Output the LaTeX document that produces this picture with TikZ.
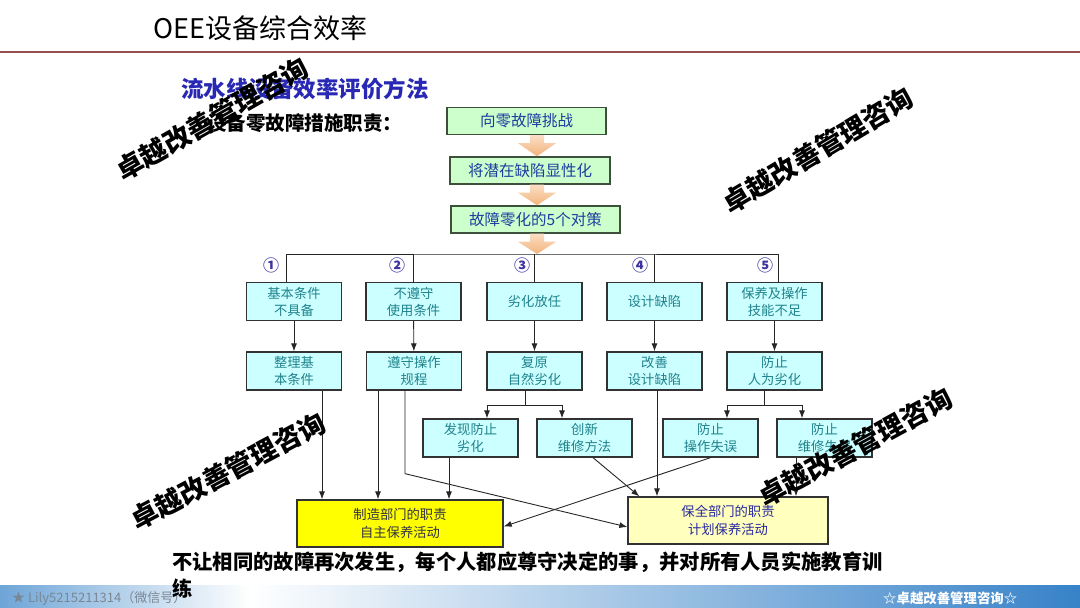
\documentclass[tikz,border=0pt]{standalone}
\usepackage{fontspec}
\setmainfont{Noto Sans CJK SC}
\usepackage{tikz}
\usetikzlibrary{arrows.meta,positioning,calc}
\usepackage{xcolor}

\definecolor{hdrline}{RGB}{150,80,80}
\definecolor{subblue}{RGB}{40,40,180}
\definecolor{topfill}{RGB}{204,255,204}
\definecolor{topedge}{RGB}{60,80,60}
\definecolor{topblue}{RGB}{30,60,160}
\definecolor{cyanfill}{RGB}{204,255,255}
\definecolor{boxedge}{RGB}{50,50,50}
\definecolor{tealtext}{RGB}{30,130,140}
\definecolor{yellowfill}{RGB}{255,255,0}
\definecolor{lightyellow}{RGB}{255,255,190}
\definecolor{mfgtext}{RGB}{50,50,70}
\definecolor{mnttext}{RGB}{40,40,160}
\definecolor{arrorange}{RGB}{243,180,125}
\definecolor{numblue}{RGB}{60,50,160}
\definecolor{footL}{RGB}{110,165,215}
\definecolor{footR}{RGB}{55,130,200}
\definecolor{footgray}{RGB}{120,135,150}

\begin{document}
\begin{tikzpicture}[x=1pt,y=-1pt,
    topbox/.style={
        rectangle, draw=topedge, line width=1.4pt, fill=topfill,
        minimum height=27pt, inner sep=0pt, text=topblue,
        font=\fontsize{15.5}{18}\selectfont
    },
    cbox/.style={
        rectangle, draw=boxedge, line width=1.3pt, fill=cyanfill,
        minimum width=95pt, minimum height=38pt, inner sep=0pt, align=center,
        text=tealtext, font=\fontsize{13.3}{17}\selectfont
    },
    dutybox/.style={
        rectangle, draw=boxedge, line width=1.3pt, minimum height=47pt,
        inner sep=0pt, align=center, font=\fontsize{13.3}{17.5}\selectfont
    },
    ln/.style={draw=black!85, line width=0.9pt},
    arr/.style={ln, -{Latex[length=8pt,width=6pt]}},
    blockarr/.style={top color=arrorange!45, bottom color=arrorange},
    num/.style={text=numblue, font=\fontsize{16}{16}\selectfont\bfseries},
    wmark/.style={font=\fontsize{27}{27}\selectfont\bfseries, text=black}
]
\fill[white] (0,0) rectangle (1080,608);
\useasboundingbox (0,0) rectangle (1080,608);

% 标题
\node[anchor=west, inner sep=0pt, font=\fontsize{27}{27}\selectfont] (title) at (153,28) {OEE设备综合效率};
\draw[hdrline, line width=1.8pt] (0,52) -- (1080,52);
\node[anchor=west, inner sep=0pt, text=subblue, font=\fontsize{22.5}{22.5}\selectfont\bfseries] (sub) at (181,89) {流水线设备效率评价方法};
\node[anchor=west, inner sep=0pt, font=\fontsize{19.5}{19.5}\selectfont\bfseries] (duty) at (207,123) {设备零故障措施职责：};

% 上部流程
\node[topbox, minimum width=159pt] (t1) at (526.5,121) {向零故障挑战};
\node[topbox, minimum width=160pt] (t2) at (530,170.5) {将潜在缺陷显性化};
\node[topbox, minimum width=169pt] (t3) at (535.5,219.5) {故障零化的5个对策};
\coordinate (bar) at (537,254);
\foreach \u/\v in {t1/t2.north, t2/t3.north, t3/bar}
    \shade[blockarr] ($(\u.south -| bar)+(-7,0)$) -- ++(14,0) -- ++(0,8) -- ++(12,0)
        -- (\v -| bar) -- ($(\u.south -| bar)+(-19,8)$) -- ++(12,0) -- cycle;

% 5个对策
\node[cbox] (a1) at (294,301.5) {基本条件\\不具备};
\node[cbox] (a2) at (413.5,301.5) {不遵守\\使用条件};
\node[cbox] (a3) at (534.5,301.5) {劣化放任};
\node[cbox] (a4) at (654.5,301.5) {设计缺陷};
\node[cbox] (a5) at (774.5,301.5) {保养及操作\\技能不足};
\foreach \i/\x/\t in {1/271/①, 2/397/②, 3/522/③, 4/640/④, 5/765/⑤}
    \node[num] (n\i) at (\x,265) {\t};

\node[cbox] (b1) at (294,371) {整理基\\本条件};
\node[cbox] (b2) at (414,371) {遵守操作\\规程};
\node[cbox] (b3) at (534.5,371) {复原\\自然劣化};
\node[cbox] (b4) at (654.5,371) {改善\\设计缺陷};
\node[cbox] (b5) at (774.5,371) {防止\\人为劣化};

\node[cbox] (c1) at (470.5,438) {发现防止\\劣化};
\node[cbox] (c2) at (584.5,438) {创新\\维修方法};
\node[cbox] (c3) at (710.5,438) {防止\\操作失误};
\node[cbox] (c4) at (824.5,438) {防止\\维修失误};

% 职责
\node[dutybox, fill=yellowfill, text=mfgtext, minimum width=206pt] (mfg) at (400,523.5) {制造部门的职责\\自主保养活动};
\node[dutybox, fill=lightyellow, text=mnttext, minimum width=200pt] (mnt) at (728,520.5) {保全部门的职责\\计划保养活动};

% 连线
\draw[ln] ([xshift=-8pt]a1.north) |- (bar) -| ([xshift=3.5pt]a5.north);
\foreach \n in {a2,a3,a4}
    \draw[ln] (\n.north) -- (\n.north |- bar);
\foreach \i in {1,...,5}
    \draw[arr] (a\i) -- (b\i);

\coordinate (s3) at (525,405);
\draw[ln] (b3.south -| s3) -- (s3);
\draw[arr] (s3) -| ([xshift=16.5pt]c1.north);
\draw[arr] (s3) -| ([xshift=-22.5pt]c2.north);
\coordinate (s5) at (764,405);
\draw[ln] (b5.south -| s5) -- (s5);
\draw[arr] (s5) -| ([xshift=16.5pt]c3.north);
\draw[arr] (s5) -| ([xshift=-22.5pt]c4.north);

\draw[arr] ($(b1.south)+(28,0)$) -- ($(mfg.north -| b1.south)+(28,0)$);
\draw[arr] ($(b2.south)+(-36,0)$) -- ($(mfg.north -| b2.south)+(-36,0)$);
\draw[arr] ($(c1.south)+(-21.5,0)$) -- ($(mfg.north -| c1.south)+(-21.5,0)$);
\draw[arr] ($(b2.south)+(-9,0)$) -- ($(b2.south)+(-9,83)$) -- ($(mnt.west)+(0,6.5)$);
\draw[arr] ($(c2.south)+(8.5,0)$) -- ($(mnt.north west)+(12,0)$);
\draw[arr] ($(b4.south)+(2.5,0)$) -- ($(mnt.north -| b4.south)+(2.5,0)$);
\draw[arr] ($(c4.south)+(-28.5,0)$) -- ($(mnt.north -| c4.south)+(-28.5,0)$);
\draw[arr] (c3.south) -- ($(mfg.east)+(0,3)$);

% 页脚
\shade[left color=footL, right color=white] (0,585) rectangle (250,608);
\shade[left color=white, right color=footR] (250,585) rectangle (1080,608);
\node[anchor=west, inner sep=0pt, text=footgray, font=\fontsize{13}{13}\selectfont] (wx) at (12,598) {★ Lily5215211314（微信号）};
\node[anchor=west, inner sep=0pt, text=white, font=\fontsize{13.4}{13.4}\selectfont\bfseries] (brand) at (883,598) {☆卓越改善管理咨询☆};

% 说明
\node[anchor=north west, inner sep=0pt, align=left, font=\fontsize{20.3}{27}\selectfont\bfseries] (note) at (172,552)
    {不让相同的故障再次发生，每个人都应尊守决定的事，并对所有人员实施教育训\\练};

% 水印
\node[wmark, rotate=29.6] (wm1) at (212,119) {卓越改善管理咨询};
\node[wmark, rotate=30.8] (wm2) at (818,150) {卓越改善管理咨询};
\node[wmark, rotate=28] (wm3) at (228,471) {卓越改善管理咨询};
\node[wmark, rotate=28.6] (wm4) at (855,447) {卓越改善管理咨询};
\end{tikzpicture}
\end{document}
